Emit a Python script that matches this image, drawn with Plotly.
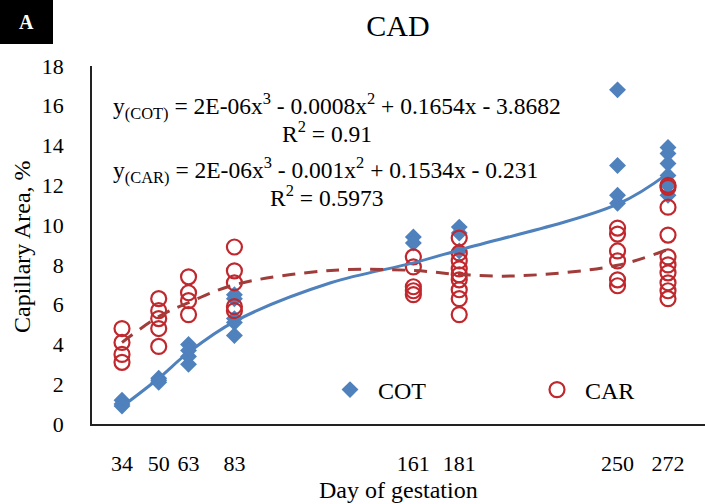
import numpy as np
import plotly.graph_objects as go

# ---------------- data ----------------
days = [34, 50, 63, 83, 161, 181, 250, 272]
tick_labels = ["34", "50", "63", "83", "161", "181", "250", "272"]

cot_values = [
    [1.2, 1.0, 0.9],
    [2.3, 2.2, 2.1],
    [4.0, 3.7, 3.4, 3.0],
    [6.5, 6.3, 5.3, 5.1, 4.45],
    [9.4, 9.1],
    [9.9, 9.6, 8.7],
    [16.8, 13.0, 11.5, 11.1],
    [13.9, 13.6, 13.1, 12.5, 12.0, 11.5],
]
car_values = [
    [4.8, 4.1, 3.5, 3.1],
    [6.3, 5.7, 5.3, 4.8, 3.9],
    [7.4, 6.6, 6.2, 5.5],
    [8.9, 7.7, 7.1, 5.9, 5.7],
    [8.4, 7.9, 6.9, 6.7, 6.5],
    [9.35, 8.6, 8.2, 7.8, 7.5, 7.25, 6.75, 6.3, 5.5],
    [9.85, 9.55, 8.7, 8.2, 7.25, 6.95],
    [12.0, 11.9, 10.9, 9.5, 8.4, 8.0, 7.6, 7.1, 6.7, 6.3],
]

# polynomial trendlines
cot_trend_days = [34, 50, 63, 83, 125, 161, 181, 250, 272]
cot_trend_vals = [0.87, 2.3, 3.6, 5.15, 7.1, 8.1, 8.75, 11.05, 12.6]
car_trend_days = [34, 50, 63, 83, 125, 161, 181, 207, 250, 272]
car_trend_vals = [4.1, 5.4, 6.1, 7.0, 7.72, 7.72, 7.52, 7.45, 7.98, 8.78]

eq_cot = "y<sub>(COT)</sub> = 2E-06x<sup>3</sup> - 0.0008x<sup>2</sup> + 0.1654x - 3.8682"
r2_cot = "R<sup>2</sup> = 0.91"
eq_car = "y<sub>(CAR)</sub> = 2E-06x<sup>3</sup> - 0.001x<sup>2</sup> + 0.1534x - 0.231"
r2_car = "R<sup>2</sup> = 0.5973"


def flatten(groups):
    xs, ys = [], []
    for d, vals in zip(days, groups):
        for v in vals:
            xs.append(d)
            ys.append(v)
    return xs, ys


cot_x, cot_y = flatten(cot_values)
car_x, car_y = flatten(car_values)

# ---------------- layout helpers ----------------
W, H = 705, 504
L, R, T, B = 92, 705, 66, 424
FONT = "Liberation Serif"


def px_x(px):
    return (px - L) / (R - L)


def px_y(py):
    return (B - py) / (B - T)


BLUE = "#4F81BD"
RED = "#C0282D"
DARKRED = "#A03C3A"

fig = go.Figure()
fig.add_trace(go.Scatter(
    x=cot_x, y=cot_y, mode="markers", name="COT",
    marker=dict(symbol="diamond", size=13, color=BLUE),
))
fig.add_trace(go.Scatter(
    x=car_x, y=car_y, mode="markers", name="CAR",
    marker=dict(symbol="circle-open", size=15, color=RED, line=dict(width=2.2, color=RED)),
))
fig.add_trace(go.Scatter(
    x=cot_trend_days, y=cot_trend_vals, mode="lines", showlegend=False,
    line=dict(color=BLUE, width=3, shape="spline", smoothing=1.0),
))
fig.add_trace(go.Scatter(
    x=car_trend_days, y=car_trend_vals, mode="lines", showlegend=False,
    line=dict(color=DARKRED, width=3, dash="13px,9px", shape="spline", smoothing=1.0),
))

annotations = [
    dict(text=eq_cot, x=px_x(337), y=px_y(106)),
    dict(text=r2_cot, x=px_x(327), y=px_y(132)),
    dict(text=eq_car, x=px_x(325), y=px_y(170)),
    dict(text=r2_car, x=px_x(327), y=px_y(196)),
]
for a in annotations:
    a.update(xref="paper", yref="paper", showarrow=False, xanchor="center",
             yanchor="middle", font=dict(family=FONT, size=23.5, color="black"))

# axis titles
annotations.append(dict(text="Capillary Area, %", xref="paper", yref="paper",
                        x=px_x(22), y=px_y(247), showarrow=False, textangle=-90,
                        xanchor="center", yanchor="middle",
                        font=dict(family=FONT, size=24, color="black")))
annotations.append(dict(text="Day of gestation", xref="paper", yref="paper",
                        x=px_x(398), y=px_y(490), showarrow=False,
                        xanchor="center", yanchor="middle",
                        font=dict(family=FONT, size=24, color="black")))
# panel letter
annotations.append(dict(text="<b>A</b>", xref="paper", yref="paper",
                        x=px_x(26), y=px_y(22), showarrow=False,
                        xanchor="center", yanchor="middle",
                        font=dict(family=FONT, size=20, color="white")))

shapes = [dict(type="rect", xref="paper", yref="paper",
               x0=px_x(0), x1=px_x(53), y0=px_y(44), y1=px_y(0),
               fillcolor="black", line=dict(width=0), layer="above")]

slope = (668 - 122) / (272 - 34)
x_lo = 34 - (122 - L) / slope
x_hi = 272 + (R - 668) / slope

fig.update_layout(
    width=W, height=H,
    margin=dict(l=L, r=W - R, t=T, b=H - B, pad=0, autoexpand=False),
    paper_bgcolor="white", plot_bgcolor="white",
    title=dict(text="CAD", x=px_x(398), xref="paper", xanchor="center",
               y=1 - 25 / H, yref="container", yanchor="middle",
               font=dict(family=FONT, size=30, color="black")),
    font=dict(family=FONT, color="black"),
    xaxis=dict(range=[x_lo, x_hi], tickvals=days, ticktext=tick_labels,
               tickangle=0, automargin=False,
               showgrid=False, zeroline=False, showline=True, linecolor="#222",
               linewidth=1.6, ticks="outside", ticklen=19, tickcolor="rgba(0,0,0,0)",
               tickfont=dict(family=FONT, size=22, color="black")),
    yaxis=dict(range=[0, 18], dtick=2, showgrid=False, zeroline=False,
               automargin=False,
               showline=True, linecolor="#222", linewidth=1.6,
               ticks="outside", ticklen=22, tickcolor="rgba(0,0,0,0)",
               tickfont=dict(family=FONT, size=22, color="black")),
    legend=dict(orientation="h", x=px_x(322), y=px_y(390), xanchor="left",
                yanchor="middle", bgcolor="rgba(0,0,0,0)",
                itemwidth=46, entrywidth=146, entrywidthmode="pixels",
                font=dict(family=FONT, size=24, color="black")),
    annotations=annotations,
    shapes=shapes,
)

fig.write_html("out.html")
